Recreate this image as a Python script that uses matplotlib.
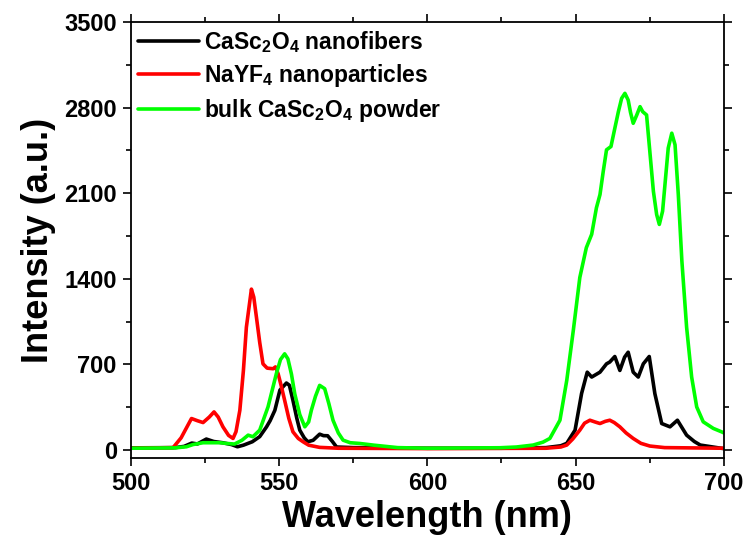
import matplotlib
matplotlib.use("Agg")
import matplotlib.pyplot as plt
from matplotlib.ticker import MultipleLocator

plt.rcParams['font.family'] = ['Liberation Sans', 'DejaVu Sans']
plt.rcParams['font.weight'] = 'bold'
plt.rcParams['mathtext.default'] = 'regular'

# CaSc2O4 nanofibers
wl_fiber = [500, 515, 518, 520.6, 522.5, 525.5, 528, 531, 534, 536, 538, 541, 543.5, 545.8, 547,
            548.6, 550.3, 552.5, 553.5, 554.7, 556, 557, 558.5, 559.7, 561.5, 563.7, 565, 566.4, 568,
            569.4, 575, 600, 625, 640, 645, 647, 649.8, 652, 653.9, 655.4, 658.2, 660.4, 661.5, 663.2,
            664.9, 666.5, 667.7, 669.4, 671.1, 672.8, 674.8, 676.7, 679, 681.8, 684.3, 687.4, 690,
            692, 698.7, 700]
int_fiber = [18, 20, 30, 57, 50, 90, 70, 60, 45, 27, 40, 68, 110, 190, 240,
             325, 490, 548, 530, 407, 260, 163, 100, 68, 80, 130, 118, 117, 70,
             25, 20, 15, 15, 20, 35, 55, 163, 463, 637, 597, 637, 705, 720, 765,
             651, 760, 800, 637, 597, 705, 765, 461, 217, 190, 244, 122, 70,
             41, 16, 12]

# NaYF4 nanoparticles
wl_nayf = [500, 514.3, 517, 520.5, 522.5, 524.4, 526.5, 528.1, 529.5, 531.1, 533, 534.5, 535.5,
           536.8, 538, 539, 540.7, 541.5, 542.4, 543.5, 544.6, 546, 548, 548.8, 549.7, 550.8, 551.9,
           553.3, 554.7, 556.5, 558.1, 560, 563.7, 570, 600, 640, 645, 647, 649, 651.4, 653, 654.8,
           656.5, 658.2, 660, 661.5, 663, 664.9, 667, 669.4, 672, 675, 680, 700]
int_nayf = [15, 20, 100, 258, 240, 225, 270, 312, 270, 190, 120, 95, 150,
            325, 650, 1004, 1316, 1250, 1085, 880, 705, 670, 665, 680, 624, 520, 407,
            260, 149, 95, 68, 40, 22, 15, 12, 15, 25, 41, 90, 163, 220, 244,
            230, 217, 235, 244, 225, 190, 140, 95, 55, 33, 20, 15]

# bulk CaSc2O4 powder
wl_bulk = [500, 515, 518.8, 521, 524.4, 530, 532, 535, 537.5, 539.6, 541.2, 543.5, 546.3, 549.1,
           550.5, 551.9, 553, 554.2, 555.3, 557, 558.7, 560, 560.9, 562.3, 563.7, 565.4, 566.8,
           568.2, 570, 571.6, 574, 577.2, 582, 590, 600, 624.5, 630, 635.7, 639, 641.3, 644.7, 647,
           649.2, 651.4, 653.6, 655.4, 657, 658.2, 659.3, 660.4, 661.9, 663.2, 664.4, 665.5, 666.6,
           667.7, 668.5, 669.4, 670.6, 671.7, 672.6, 673.9, 675, 676.2, 677.3, 678.2, 679.3, 680.1,
           681.2, 682.4, 683.5, 684.6, 685.8, 687.4, 689.1, 690.8, 693, 696.4, 699.2, 700]
int_bulk = [15, 18, 27, 45, 60, 60, 55, 49, 80, 122, 109, 163, 353, 624,
            740, 787, 746, 620, 461, 290, 190, 230, 325, 440, 529, 502, 380,
            244, 140, 81, 60, 54, 40, 20, 15, 19, 25, 41, 65, 95, 244, 570,
            977, 1411, 1655, 1764, 1981, 2089, 2279, 2455, 2482, 2631, 2767, 2876, 2917,
            2862, 2760, 2672, 2740, 2808, 2767, 2740, 2442, 2116, 1926, 1845, 1953, 2170,
            2469, 2591, 2496, 2089, 1547, 1004, 597, 353, 231, 177, 149, 140]

labels = ['CaSc$_2$O$_4$ nanofibers', 'NaYF$_4$ nanoparticles', 'bulk CaSc$_2$O$_4$ powder']
colors = ['#000000', '#ff0000', '#00ff00']

fig = plt.figure(figsize=(7.45, 5.45), dpi=100)
ax = fig.add_axes([0.1754, 0.1596, 0.7964, 0.8000])

for wl, inten, c, lab in [(wl_fiber, int_fiber, colors[0], labels[0]),
                          (wl_nayf, int_nayf, colors[1], labels[1]),
                          (wl_bulk, int_bulk, colors[2], labels[2])]:
    ax.plot(wl, inten, color=c, lw=2.6, label=lab,
            solid_joinstyle='round', solid_capstyle='round')

ax.set_xlim(500, 700)
ax.set_ylim(-65, 3500)
ax.xaxis.set_major_locator(MultipleLocator(50))
ax.xaxis.set_minor_locator(MultipleLocator(25))
ax.yaxis.set_major_locator(MultipleLocator(700))
ax.yaxis.set_minor_locator(MultipleLocator(350))

for s in ax.spines.values():
    s.set_linewidth(1.3)
ax.tick_params(which='both', direction='out', top=True, right=True, width=1.2,
               labelsize=17, pad=4)
ax.tick_params(which='major', length=6)
ax.tick_params(which='minor', length=3.5)
for lab in ax.get_xticklabels() + ax.get_yticklabels():
    lab.set_fontweight('bold')

ax.set_xlabel('Wavelength (nm)', fontsize=26, fontweight='bold', labelpad=4)
ax.set_ylabel('Intensity (a.u.)', fontsize=26, fontweight='bold', labelpad=6)

leg = ax.legend(loc='upper left', frameon=False, fontsize=16.5, handlelength=2.7,
                handletextpad=0.2, labelspacing=0.33, borderaxespad=0.05,
                borderpad=0.25)
for t in leg.get_texts():
    t.set_fontweight('bold')

fig.savefig('out.png', dpi=100)
